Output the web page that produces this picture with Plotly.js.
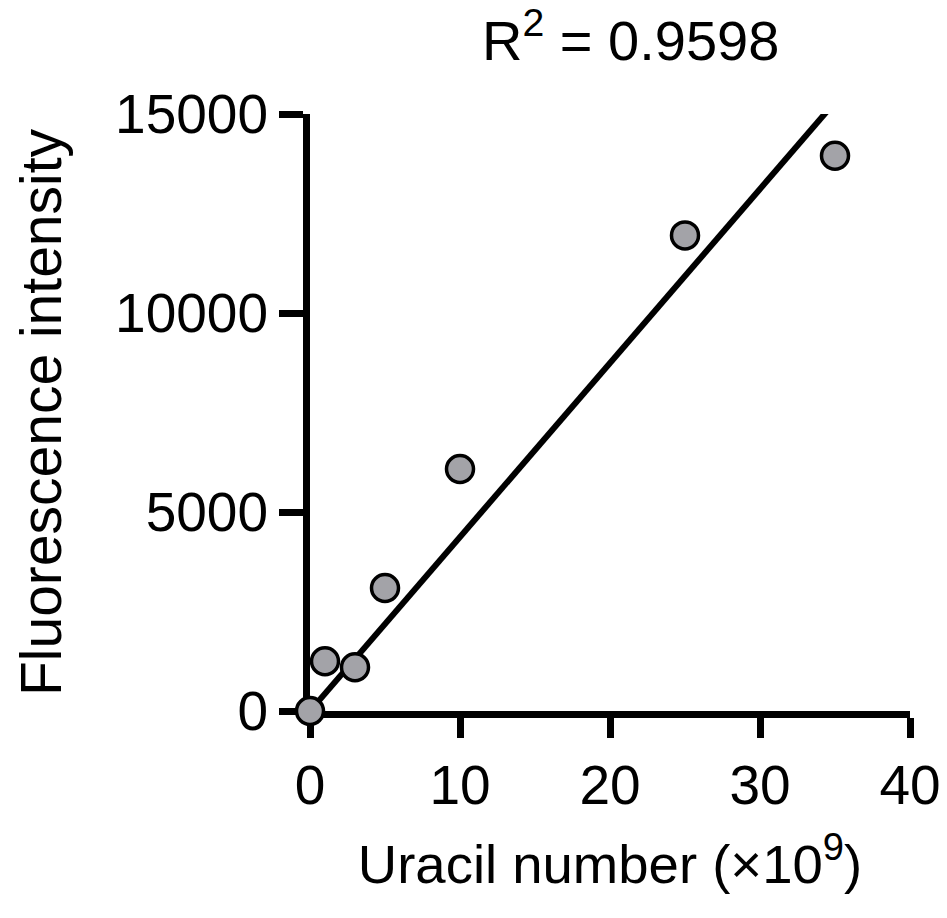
<!DOCTYPE html>
<html>
<head>
<meta charset="utf-8">
<script src="https://cdn.plot.ly/plotly-3.0.1.min.js"></script>
<style>
  html, body { margin: 0; padding: 0; background: #ffffff; }
  #chart { width: 947px; height: 918px; }
</style>
</head>
<body>
<div id="chart"></div>
<script>
// Uracil standard curve: fluorescence vs. uracil number (x10^9)
const uracilNumber = [0, 1, 3, 5, 10, 25, 35];
const fluorescence = [0, 1250, 1100, 3090, 6080, 11950, 13950];
const rSquaredLabel = "0.9598";

const xTicks = [0, 10, 20, 30, 40];
const yTicks = [0, 5000, 10000, 15000];

// Linear fit constrained through the origin: slope = Σxy / Σx²
let sxy = 0, sxx = 0;
for (let i = 0; i < uracilNumber.length; i++) {
  sxy += uracilNumber[i] * fluorescence[i];
  sxx += uracilNumber[i] * uracilNumber[i];
}
const slope = sxy / sxx;
const fitX = [Math.min(...uracilNumber), Math.max(...uracilNumber)];
const fitY = fitX.map(x => slope * x);

const FONT = "Arial, 'Liberation Sans', sans-serif";

const traces = [
  {
    x: fitX, y: fitY,
    mode: "lines",
    type: "scatter",
    line: { color: "#000000", width: 6 },
    hoverinfo: "skip",
    showlegend: false
  },
  {
    x: uracilNumber, y: fluorescence,
    mode: "markers",
    type: "scatter",
    cliponaxis: false,
    marker: { size: 27, color: "#a3a3a8", line: { color: "#000000", width: 3.5 } },
    showlegend: false
  }
];

const axisCommon = {
  showgrid: false,
  zeroline: false,
  showline: true,
  linecolor: "#000000",
  linewidth: 7,
  ticks: "outside",
  tickcolor: "#000000",
  tickwidth: 7,
  layer: "below traces",
  tickfont: { family: FONT, size: 55, color: "#000000" }
};

const layout = {
  width: 947,
  height: 918,
  paper_bgcolor: "#ffffff",
  plot_bgcolor: "#ffffff",
  margin: { l: 310, r: 37, t: 114, b: 207 },
  showlegend: false,
  xaxis: Object.assign({}, axisCommon, {
    range: [0, 40],
    tickmode: "array",
    tickvals: xTicks,
    ticktext: xTicks.map(String),
    ticklen: 20,
    title: { text: "Uracil number (×10<sup>9</sup>)", font: { family: FONT, size: 54.5, color: "#000000" }, standoff: 32 }
  }),
  yaxis: Object.assign({}, axisCommon, {
    range: [0, 15000],
    tickmode: "array",
    tickvals: yTicks,
    ticktext: yTicks.map(String),
    ticklen: 24,
    title: { text: "Fluorescence intensity", font: { family: FONT, size: 57, color: "#000000" }, standoff: 38 }
  }),
  annotations: [
    {
      xref: "paper", yref: "paper",
      x: (630 - 310) / 600, y: 1 + (114 - 36) / 597,
      xanchor: "center", yanchor: "middle",
      showarrow: false,
      text: "R<sup>2</sup> = " + rSquaredLabel,
      font: { family: FONT, size: 56, color: "#000000" }
    }
  ]
};

Plotly.newPlot("chart", traces, layout, { displayModeBar: false, staticPlot: true });
</script>
</body>
</html>
